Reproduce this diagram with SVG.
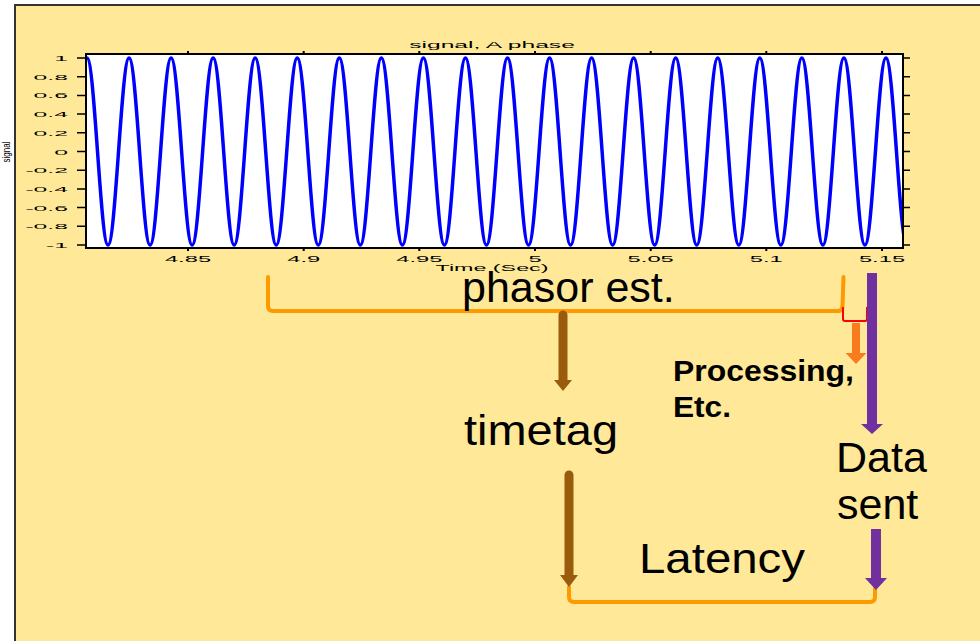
<svg xmlns="http://www.w3.org/2000/svg" width="980" height="641" viewBox="0 0 980 641">
<defs>
<style>
.ax{font-family:"Liberation Sans",Arial,sans-serif;fill:#000}
.big{font-family:"Liberation Sans",Arial,sans-serif;font-size:43px;fill:#000}
.bold{font-family:"Liberation Sans",Arial,sans-serif;font-size:30px;font-weight:bold;fill:#000}
.brk{fill:none;stroke:#FF9900;stroke-width:4;stroke-linecap:round;stroke-linejoin:round}
.tick{fill:none;stroke:#000;stroke-width:1.5}
.brown{fill:#9A5C0C}
.purple{fill:#7030A0}
.proc{fill:#F97B1F}
</style>
<clipPath id="pc"><rect x="86" y="54" width="817" height="194"/></clipPath>
</defs>
<rect width="980" height="641" fill="#fff"/>
<rect x="15" y="5" width="965" height="636" fill="#FFE999"/>
<path d="M15,641 V5 H980" fill="none" stroke="#333" stroke-width="2"/>

<g id="plot">
<rect x="86" y="54" width="817" height="194" fill="#fff"/>
<path clip-path="url(#pc)" fill="none" stroke="#0000FF" stroke-width="3.5" stroke-linejoin="round" d="M44.95,58 c3.7875,0 7.0845,45.6 10.5125,93.5 s6.725,93.5 10.5125,93.5 7.0845,-45.6 10.5125,-93.5 6.725,-93.5 10.5125,-93.5 7.0845,45.6 10.5125,93.5 6.725,93.5 10.5125,93.5 7.0845,-45.6 10.5125,-93.5 6.725,-93.5 10.5125,-93.5 7.0845,45.6 10.5125,93.5 6.725,93.5 10.5125,93.5 7.0845,-45.6 10.5125,-93.5 6.725,-93.5 10.5125,-93.5 7.0845,45.6 10.5125,93.5 6.725,93.5 10.5125,93.5 7.0845,-45.6 10.5125,-93.5 6.725,-93.5 10.5125,-93.5 7.0845,45.6 10.5125,93.5 6.725,93.5 10.5125,93.5 7.0845,-45.6 10.5125,-93.5 6.725,-93.5 10.5125,-93.5 7.0845,45.6 10.5125,93.5 6.725,93.5 10.5125,93.5 7.0845,-45.6 10.5125,-93.5 6.725,-93.5 10.5125,-93.5 7.0845,45.6 10.5125,93.5 6.725,93.5 10.5125,93.5 7.0845,-45.6 10.5125,-93.5 6.725,-93.5 10.5125,-93.5 7.0845,45.6 10.5125,93.5 6.725,93.5 10.5125,93.5 7.0845,-45.6 10.5125,-93.5 6.725,-93.5 10.5125,-93.5 7.0845,45.6 10.5125,93.5 6.725,93.5 10.5125,93.5 7.0845,-45.6 10.5125,-93.5 6.725,-93.5 10.5125,-93.5 7.0845,45.6 10.5125,93.5 6.725,93.5 10.5125,93.5 7.0845,-45.6 10.5125,-93.5 6.725,-93.5 10.5125,-93.5 7.0845,45.6 10.5125,93.5 6.725,93.5 10.5125,93.5 7.0845,-45.6 10.5125,-93.5 6.725,-93.5 10.5125,-93.5 7.0845,45.6 10.5125,93.5 6.725,93.5 10.5125,93.5 7.0845,-45.6 10.5125,-93.5 6.725,-93.5 10.5125,-93.5 7.0845,45.6 10.5125,93.5 6.725,93.5 10.5125,93.5 7.0845,-45.6 10.5125,-93.5 6.725,-93.5 10.5125,-93.5 7.0845,45.6 10.5125,93.5 6.725,93.5 10.5125,93.5 7.0845,-45.6 10.5125,-93.5 6.725,-93.5 10.5125,-93.5 7.0845,45.6 10.5125,93.5 6.725,93.5 10.5125,93.5 7.0845,-45.6 10.5125,-93.5 6.725,-93.5 10.5125,-93.5 7.0845,45.6 10.5125,93.5 6.725,93.5 10.5125,93.5 7.0845,-45.6 10.5125,-93.5 6.725,-93.5 10.5125,-93.5 7.0845,45.6 10.5125,93.5 6.725,93.5 10.5125,93.5 7.0845,-45.6 10.5125,-93.5 6.725,-93.5 10.5125,-93.5 7.0845,45.6 10.5125,93.5 6.725,93.5 10.5125,93.5 7.0845,-45.6 10.5125,-93.5 6.725,-93.5 10.5125,-93.5 7.0845,45.6 10.5125,93.5 6.725,93.5 10.5125,93.5 7.0845,-45.6 10.5125,-93.5 6.725,-93.5 10.5125,-93.5 7.0845,45.6 10.5125,93.5 6.725,93.5 10.5125,93.5 7.0845,-45.6 10.5125,-93.5 6.725,-93.5 10.5125,-93.5 7.0845,45.6 10.5125,93.5 6.725,93.5 10.5125,93.5 7.0845,-45.6 10.5125,-93.5 6.725,-93.5 10.5125,-93.5 7.0845,45.6 10.5125,93.5 6.725,93.5 10.5125,93.5 7.0845,-45.6 10.5125,-93.5 6.725,-93.5 10.5125,-93.5 7.0845,45.6 10.5125,93.5"/>
<rect x="86" y="54" width="817" height="194" fill="none" stroke="#000" stroke-width="2"/>
<path class="tick" d="M77,58H86M77,76.7H86M77,95.4H86M77,114.1H86M77,132.8H86M77,151.5H86M77,170.2H86M77,188.9H86M77,207.6H86M77,226.3H86M77,245H86 M903,58H910M903,76.7H910M903,95.4H910M903,114.1H910M903,132.8H910M903,151.5H910M903,170.2H910M903,188.9H910M903,207.6H910M903,226.3H910M903,245H910"/>
<path fill="none" stroke="#000" stroke-width="2" d="M188,51V54M303.7,51V54M419.3,51V54M535,51V54M650.7,51V54M766.3,51V54M882,51V54 M188,248V251M303.7,248V251M419.3,248V251M535,248V251M650.7,248V251M766.3,248V251M882,248V251"/>
<g class="ax" font-size="7.5" text-anchor="end">
<text transform="matrix(3.3,0,0,1,68,61)">1</text>
<text transform="matrix(3.3,0,0,1,68,79.7)">0.8</text>
<text transform="matrix(3.3,0,0,1,68,98.4)">0.6</text>
<text transform="matrix(3.3,0,0,1,68,117.1)">0.4</text>
<text transform="matrix(3.3,0,0,1,68,135.8)">0.2</text>
<text transform="matrix(3.3,0,0,1,68,154.5)">0</text>
<text transform="matrix(3.3,0,0,1,68,173.2)">-0.2</text>
<text transform="matrix(3.3,0,0,1,68,191.9)">-0.4</text>
<text transform="matrix(3.3,0,0,1,68,210.6)">-0.6</text>
<text transform="matrix(3.3,0,0,1,68,229.3)">-0.8</text>
<text transform="matrix(3.3,0,0,1,68,248)">-1</text>
</g>
<g class="ax" font-size="9.5" text-anchor="middle">
<text transform="matrix(2.5,0,0,1,188,262)">4.85</text>
<text transform="matrix(2.5,0,0,1,303.7,262)">4.9</text>
<text transform="matrix(2.5,0,0,1,419.3,262)">4.95</text>
<text transform="matrix(2.5,0,0,1,535,262)">5</text>
<text transform="matrix(2.5,0,0,1,650.7,262)">5.05</text>
<text transform="matrix(2.5,0,0,1,766.3,262)">5.1</text>
<text transform="matrix(2.5,0,0,1,882,262)">5.15</text>
<text transform="matrix(2.45,0,0,1,492,271)">Time (Sec)</text>
</g>
<text class="ax" font-size="8.5" text-anchor="middle" transform="matrix(2.9,0,0,1,492,48)">signal, A phase</text>
<text class="ax" font-size="8" text-anchor="middle" transform="matrix(1.3,0,0,1,10,152) rotate(-90)">signal</text>
</g>

<g id="connectors">
<path class="brk" d="M268,277 V306 Q268,311 273,311 H838 Q842,311 842.5,306 L843.5,277"/>
<path d="M843,307 V319 Q843,321 845,321 H865 Q867,321 867,319 V307" fill="none" stroke="#FF0000" stroke-width="2"/>
<path class="brk" d="M569,587 V597 Q569,602 574,602 H870 Q875,602 875,597 V588"/>
<path class="brown" d="M558.5,315 A4.5,4.5 0 0 1 567.5,315 V380 H572 L563,391 L554,380 H558.5 Z"/>
<path class="brown" d="M564.5,475 A4.5,4.5 0 0 1 573.5,475 V575 H578 L569,587 L560,575 H564.5 Z"/>
<path class="proc" d="M852,323 H860 V353 H866.5 L856,364 L845.5,353 H852 Z"/>
<path class="purple" d="M867,273 H877 V424 H883 L872,434 L861,424 H867 Z"/>
<path class="purple" d="M871,529 H881 V578 H887 L876,590 L865,578 H871 Z"/>
</g>

<g id="phasor-est"><text class="big" x="462" y="302">phasor est.</text></g>
<g id="timetag"><text class="big" x="464" y="445" textLength="154" lengthAdjust="spacingAndGlyphs">timetag</text></g>
<g id="processing">
<text class="bold" x="673" y="381" textLength="181" lengthAdjust="spacingAndGlyphs">Processing,</text>
<text class="bold" x="673" y="417" textLength="58" lengthAdjust="spacingAndGlyphs">Etc.</text>
</g>
<g id="data-sent">
<text class="big" font-size="41" x="836" y="472">Data</text>
<text class="big" font-size="41" x="837" y="519">sent</text>
</g>
<g id="latency"><text class="big" x="639" y="573" textLength="166" lengthAdjust="spacingAndGlyphs">Latency</text></g>
</svg>
